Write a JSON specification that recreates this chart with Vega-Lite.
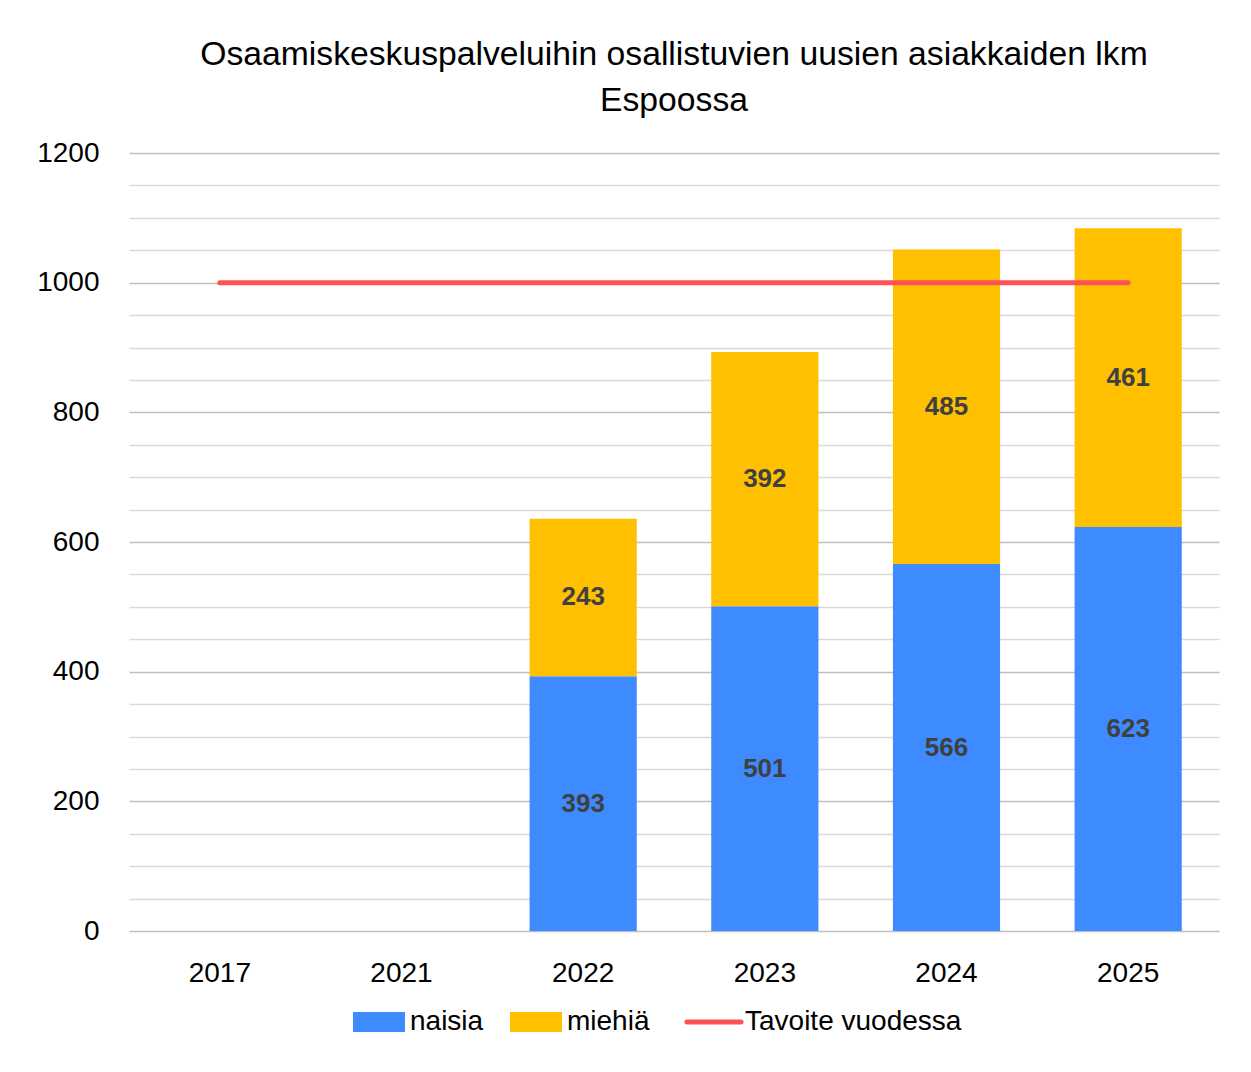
{
  "$schema": "https://vega.github.io/schema/vega-lite/v6.json",
  "width": 1090,
  "height": 778,
  "padding": {"left": 36, "top": 38, "right": 10, "bottom": 0},
  "background": "white",
  "title": {
    "text": ["Osaamiskeskuspalveluihin osallistuvien uusien asiakkaiden lkm", "Espoossa"],
    "font": "Liberation Sans",
    "fontSize": 33.7,
    "fontWeight": "normal",
    "color": "#000000",
    "lineHeight": 46,
    "anchor": "middle",
    "offset": 21
  },
  "datasets": {
    "bars": [
      {"vuosi": "2022", "sarja": "naisia", "arvo": 393},
      {"vuosi": "2022", "sarja": "miehiä", "arvo": 243},
      {"vuosi": "2023", "sarja": "naisia", "arvo": 501},
      {"vuosi": "2023", "sarja": "miehiä", "arvo": 392},
      {"vuosi": "2024", "sarja": "naisia", "arvo": 566},
      {"vuosi": "2024", "sarja": "miehiä", "arvo": 485},
      {"vuosi": "2025", "sarja": "naisia", "arvo": 623},
      {"vuosi": "2025", "sarja": "miehiä", "arvo": 461}
    ],
    "target": [
      {"vuosi": "2017", "sarja": "Tavoite vuodessa", "arvo": 1000},
      {"vuosi": "2021", "sarja": "Tavoite vuodessa", "arvo": 1000},
      {"vuosi": "2022", "sarja": "Tavoite vuodessa", "arvo": 1000},
      {"vuosi": "2023", "sarja": "Tavoite vuodessa", "arvo": 1000},
      {"vuosi": "2024", "sarja": "Tavoite vuodessa", "arvo": 1000},
      {"vuosi": "2025", "sarja": "Tavoite vuodessa", "arvo": 1000}
    ]
  },
  "encoding": {
    "x": {
      "field": "vuosi",
      "type": "nominal",
      "scale": {"domain": ["2017", "2021", "2022", "2023", "2024", "2025"], "paddingInner": 0.41, "paddingOuter": 0.205},
      "axis": {
        "title": null,
        "labelAngle": 0,
        "domain": false,
        "ticks": false,
        "grid": false,
        "labelFont": "Liberation Sans",
        "labelFontSize": 28,
        "labelColor": "#000000",
        "labelPadding": 28
      }
    }
  },
  "layer": [
    {
      "data": {"name": "bars"},
      "mark": {"type": "bar"},
      "encoding": {
        "y": {
          "field": "arvo",
          "type": "quantitative",
          "stack": "zero",
          "scale": {"domain": [0, 1200], "nice": false},
          "axis": {
            "title": null,
            "values": [0, 50, 100, 150, 200, 250, 300, 350, 400, 450, 500, 550, 600, 650, 700, 750, 800, 850, 900, 950, 1000, 1050, 1100, 1150, 1200],
            "tickCount": 40,
            "format": "d",
            "labelExpr": "datum.value % 200 === 0 ? datum.label : ''",
            "labelOverlap": false,
            "domain": false,
            "ticks": false,
            "grid": true,
            "gridColor": {"condition": {"test": "datum.value % 200 === 0", "value": "#bfbfbf"}, "value": "#d9d9d9"},
            "gridWidth": 1.5,
            "labelFont": "Liberation Sans",
            "labelFontSize": 28,
            "labelColor": "#000000",
            "labelPadding": 30,
            "labelBound": false,
            "labelFlush": false
          }
        },
        "color": {
          "field": "sarja",
          "type": "nominal",
          "scale": {"domain": ["naisia", "miehiä", "Tavoite vuodessa"], "range": ["#3d8bff", "#ffc000", "#ff5257"]},
          "legend": {
            "title": null,
            "orient": "none",
            "legendX": 236,
            "legendY": 855,
            "direction": "horizontal",
            "labelFont": "Liberation Sans",
            "labelFontSize": 28,
            "labelColor": "#000000",
            "labelLimit": 0,
            "labelOffset": 17,
            "columnPadding": 26,
            "symbolSize": 2704,
            "encode": {
              "symbols": {
                "update": {
                  "shape": {"signal": "datum.value === 'Tavoite vuodessa' ? 'M-1.04,0L1.04,0' : 'M-1,-0.385H1V0.385H-1Z'"},
                  "fill": {"signal": "datum.value === 'Tavoite vuodessa' ? 'transparent' : scale('color', datum.value)"},
                  "stroke": {"signal": "datum.value === 'Tavoite vuodessa' ? '#ff5257' : 'transparent'"},
                  "strokeWidth": {"signal": "datum.value === 'Tavoite vuodessa' ? 5 : 0"},
                  "strokeCap": {"value": "round"},
                  "opacity": {"value": 1}
                }
              }
            }
          }
        },
        "order": {"field": "sarja", "sort": "descending"}
      }
    },
    {
      "data": {"name": "bars"},
      "mark": {"type": "text", "font": "Liberation Sans", "fontSize": 26, "fontWeight": "bold", "color": "#404040"},
      "encoding": {
        "y": {"field": "arvo", "type": "quantitative", "stack": "zero", "bandPosition": 0.5},
        "detail": {"field": "sarja"},
        "order": {"field": "sarja", "sort": "descending"},
        "text": {"field": "arvo", "type": "quantitative"}
      }
    },
    {
      "data": {"name": "target"},
      "mark": {"type": "line", "strokeWidth": 5, "strokeCap": "round"},
      "encoding": {
        "y": {"field": "arvo", "type": "quantitative"},
        "color": {"field": "sarja", "type": "nominal"}
      }
    }
  ],
  "config": {
    "view": {"stroke": null}
  }
}
